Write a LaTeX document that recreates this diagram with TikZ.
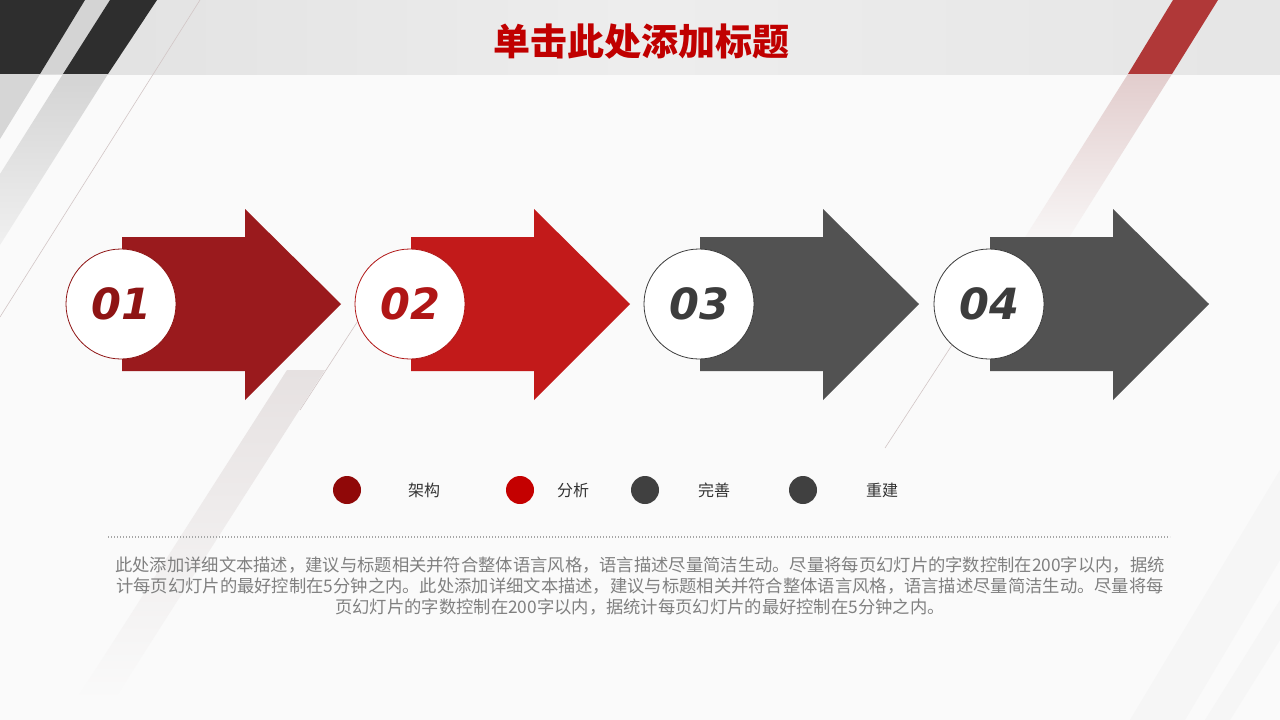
\documentclass[tikz,border=0pt]{standalone}
\usepackage{fontspec}
\setmainfont{Noto Sans CJK SC}
\newfontfamily\numfont{DejaVu Sans}
\usepackage{tikz}
\usetikzlibrary{positioning}

\definecolor{titlered}{HTML}{C00000}
\definecolor{arrowA}{HTML}{9A1A1D}
\definecolor{arrowB}{HTML}{C21A1A}
\definecolor{arrowC}{HTML}{525252}
\definecolor{numA}{HTML}{8E1414}
\definecolor{numB}{HTML}{B01616}
\definecolor{numC}{HTML}{3C3C3C}
\definecolor{dotA}{HTML}{900808}
\definecolor{dotB}{HTML}{C40000}
\definecolor{dotC}{HTML}{404040}
\definecolor{darkstripe}{HTML}{2E2E2E}
\definecolor{redstripe}{HTML}{B03838}
\definecolor{pinkstripe}{HTML}{E2CDCD}
\definecolor{thinline}{HTML}{D2C6C6}
\definecolor{palestripe}{HTML}{E6E1E1}

\tikzset{
  numcircle/.style={circle, draw, fill=white, line width=0.8pt, minimum size=110pt, inner sep=0pt,
    font=\numfont\fontsize{43}{48}\selectfont\bfseries\itshape},
  legenddot/.style={circle, minimum size=28pt, inner sep=0pt},
  legendtext/.style={font=\fontsize{16}{19}\selectfont, text=black!80},
}

\begin{document}
\begin{tikzpicture}[x=1pt, y=-1pt]
    \useasboundingbox (0,0) rectangle (1280,720);

    % Background
    \fill[black!2] (0,0) rectangle (1280,720);
    \shade[left color=black!12, right color=black!10, middle color=black!7] (0,0) rectangle (1280,74);

    % Stripes top left
    \fill[black!17] (85,0) -- (110,0) -- (63,74) -- (40,74) -- cycle;
    \fill[darkstripe] (0,0) -- (85,0) -- (40,74) -- (0,74) -- cycle;
    \fill[darkstripe] (110,0) -- (157,0) -- (108,74) -- (63,74) -- cycle;
    \fill[black!16] (0,74) -- (40,74) -- (0,139) -- cycle;
    \shade[top color=black!17, bottom color=black!6] (63,74) -- (108,74) -- (0,245) -- (0,174) -- cycle;
    \draw[thinline, line width=0.6pt] (200,0) -- (0,317);

    % Stripe top right
    \fill[redstripe] (1173,0) -- (1218,0) -- (1172,74) -- (1128,74) -- cycle;
    \shade[top color=pinkstripe, bottom color=pinkstripe!50!black!4] (1128,74) -- (1172,74) -- (1061,250) -- (1017,250) -- cycle;
    \draw[thinline, line width=0.6pt] (965,325) -- (885,448);
    \draw[thinline, line width=0.6pt] (365,310) -- (300,410);

    % Stripes bottom
    \shade[top color=palestripe, bottom color=black!2] (287,370) -- (325,370) -- (114,700) -- (76,700) -- cycle;
    \fill[black!3.5] (1280,470) -- (1280,560) -- (1185,720) -- (1130,720) -- cycle;
    \fill[black!3.5] (1280,600) -- (1280,640) -- (1230,720) -- (1205,720) -- cycle;

    % Title
    \node[font=\fontsize{37}{40}\selectfont\bfseries, text=titlered] (title) at (641,42) {单击此处添加标题};

    % Arrows and numbers
    \foreach \i/\x/\col/\ncol/\num in {1/121/arrowA/numA/01, 2/410/arrowB/numB/02, 3/699/arrowC/numC/03, 4/989/arrowC/numC/04} {
        \fill[\col] (\x+1,237) -- (\x+124,237) -- (\x+124,209) -- (\x+220,304)
            -- (\x+124,400) -- (\x+124,371) -- (\x+1,371) -- cycle;
        \node[numcircle, draw=\ncol, text=\ncol] (c\i) at (\x,304) {\num};
    }

    % Legend
    \node[legenddot, fill=dotA] (dot1) at (347,490) {};
    \node[legendtext] (lab1) at (424,490) {架构};
    \node[legenddot, fill=dotB] (dot2) at (520,490) {};
    \node[legendtext] (lab2) at (573,490) {分析};
    \node[legenddot, fill=dotC] (dot3) at (645,490) {};
    \node[legendtext] (lab3) at (714,490) {完善};
    \node[legenddot, fill=dotC] (dot4) at (803,490) {};
    \node[legendtext] (lab4) at (882,490) {重建};

    % Separator and text
    \coordinate (sepL) at (108,537);
    \coordinate (sepR) at (1170,537);
    \draw[black!35, line width=1.2pt, dash pattern=on 1.2pt off 1.8pt] (sepL) -- (sepR);
    \node[font=\fontsize{17.3}{21}\selectfont, text=black!50, align=center] (desc) at (640,586)
        {此处添加详细文本描述，建议与标题相关并符合整体语言风格，语言描述尽量简洁生动。尽量将每页幻灯片的字数控制在200字以内，据统\\
         计每页幻灯片的最好控制在5分钟之内。此处添加详细文本描述，建议与标题相关并符合整体语言风格，语言描述尽量简洁生动。尽量将每\\
         页幻灯片的字数控制在200字以内，据统计每页幻灯片的最好控制在5分钟之内。};
\end{tikzpicture}
\end{document}
